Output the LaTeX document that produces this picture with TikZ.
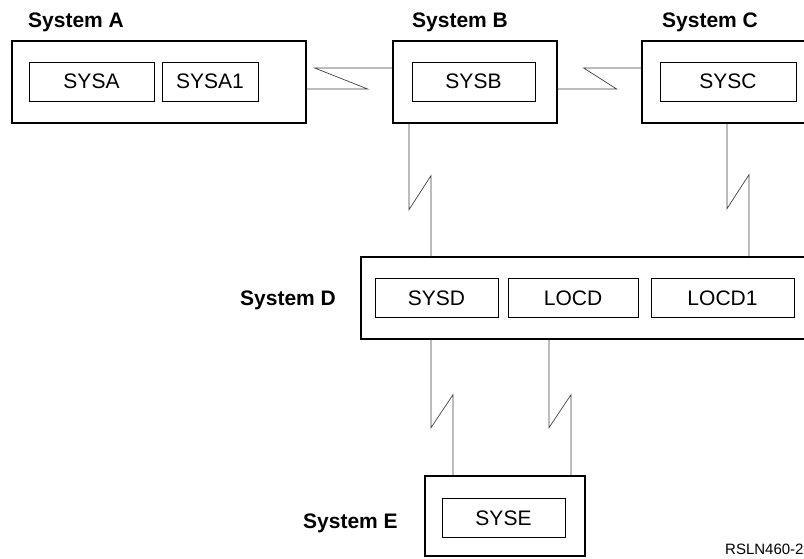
\documentclass[tikz,border=0pt]{standalone}
\usepackage{fontspec}
\setmainfont{Liberation Sans}
\usetikzlibrary{positioning, calc}
\tikzset{
    sysbox/.style={draw, line width=1.3pt, inner sep=0pt},
    locbox/.style={draw, line width=0.9pt, inner sep=0pt, minimum height=39pt,
        font=\fontsize{21}{21}\selectfont},
    syslabel/.style={anchor=base west, inner sep=0pt,
        font=\fontsize{21}{21}\selectfont\bfseries},
    link/.style={line width=0.7pt, black!75},
}
\begin{document}
\begin{tikzpicture}[x=1pt, y=-1pt]
    \useasboundingbox (0,0) rectangle (804,558);
    \clip (0,0) rectangle (804,558);

    % systems
    \node[sysbox, minimum width=294pt, minimum height=82pt] (a) at (159,82) {};
    \node[sysbox, minimum width=164pt, minimum height=82pt] (b) at (475,82) {};
    \node[sysbox, minimum width=172pt, minimum height=82pt] (c) at (728,82) {};
    \node[sysbox, minimum width=448pt, minimum height=82pt] (d) at (585,298) {};
    \node[sysbox, minimum width=160pt, minimum height=80pt] (e) at (505,516) {};

    % locations
    \node[locbox, minimum width=125pt] (sysa)  at (91.5,81.5) {SYSA};
    \node[locbox, minimum width=96pt]  (sysa1) at (210,81.5)  {SYSA1};
    \node[locbox, minimum width=123pt] (sysb)  at (473.5,81.5) {SYSB};
    \node[locbox, minimum width=136pt] (sysc)  at (728,81.5)  {SYSC};
    \node[locbox, minimum width=123pt] (sysd)  at (436.5,298) {SYSD};
    \node[locbox, minimum width=130pt] (locd)  at (573,298)   {LOCD};
    \node[locbox, minimum width=143pt] (locd1) at (722.5,298) {LOCD1};
    \node[locbox, minimum width=123pt] (syse)  at (503.5,518) {SYSE};

    % labels
    \node[syslabel] (lbla) at (28,27)   {System A};
    \node[syslabel] (lblb) at (412,27)  {System B};
    \node[syslabel] (lblc) at (662,27)  {System C};
    \node[syslabel] (lbld) at (240,305) {System D};
    \node[syslabel] (lble) at (303,528) {System E};
    \node[anchor=base west, inner sep=0pt, font=\fontsize{15}{15}\selectfont] (fig) at (725,554) {RSLN460-2};

    % horizontal links
    \draw[link] ($(a.east)+(0,7)$) -- ++(61,0) -- ++(-53,-21) coordinate (k) -- (k -| b.west);
    \draw[link] ($(b.east)+(0,7)$) -- ++(59,0) -- ++(-33,-21) coordinate (k) -- (k -| c.west);

    % vertical links
    \draw[link] ($(b.south)+(-66,0)$) -- ++(0,86) -- ++(22,-34) coordinate (k) -- (k |- d.north);
    \draw[link] ($(c.south)+(-1,0)$)  -- ++(0,85) -- ++(22,-34) coordinate (k) -- (k |- d.north);
    \draw[link] ($(d.south)+(-154,0)$) -- ++(0,88) -- ++(22,-33) coordinate (k) -- (k |- e.north);
    \draw[link] ($(d.south)+(-36,0)$)  -- ++(0,88) -- ++(22,-33) coordinate (k) -- (k |- e.north);
\end{tikzpicture}
\end{document}
